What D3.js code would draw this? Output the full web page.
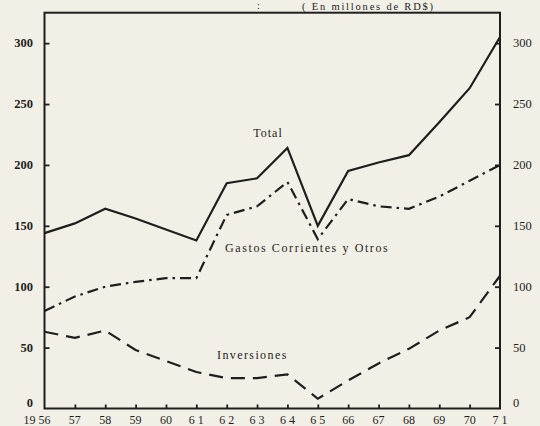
<!DOCTYPE html>
<html>
<head>
<meta charset="utf-8">
<script src="https://cdn.jsdelivr.net/npm/d3@7"></script>
<style>
  html, body { margin: 0; padding: 0; background: #f2f0e6; }
  svg { display: block; }
  text { font-family: "Liberation Serif", "DejaVu Serif", serif; fill: #1e1e1e; }
</style>
</head>
<body>
<svg id="chart" width="540" height="426"></svg>
<script>
// Years 1956–1971
const years = [1956, 1957, 1958, 1959, 1960, 1961, 1962, 1963, 1964, 1965, 1966, 1967, 1968, 1969, 1970, 1971];
const yearLabels = ["19 56", "57", "58", "59", "60", "6 1", "6 2", "6 3", "6 4", "6 5", "66", "67", "68", "69", "70", "7 1"];

// Millions of RD$
const total =       [144, 152, 164, 156, 147, 138, 185, 189, 214, 150, 195, 202, 208, 235, 263, 305];
const gastos =      [ 80,  92, 100, 104, 107, 107, 159, 166, 186, 139, 172, 166, 164, 174, 187, 200];
const inversiones = [ 63,  58,  64,  48,  39,  30,  25,  25,  28,   8,  23,  37,  49,  64,  75, 109];

const yTicks = [0, 50, 100, 150, 200, 250, 300];
const yTickLabels = ["0", "50", "100", "150", "200", "250", "300"];

const ink = "#1e1e1e";
const svg = d3.select("#chart");

const x = d3.scaleLinear().domain([1956, 1971]).range([44.5, 500]);
const y = d3.scaleLinear().domain([0, 325]).range([408.5, 12.7]);

// Frame
svg.append("rect")
  .attr("x", x(1956)).attr("y", y(325))
  .attr("width", x(1971) - x(1956)).attr("height", y(0) - y(325))
  .attr("fill", "none").attr("stroke", ink).attr("stroke-width", 2);

// Left and right axes: short ticks pointing into the plot
const left = svg.append("g").attr("transform", `translate(${x(1956)},0)`)
  .call(d3.axisRight(y).tickValues(yTicks).tickSize(5).tickFormat(() => ""));
left.select(".domain").remove();
left.selectAll(".tick line").attr("stroke", ink).attr("stroke-width", 1.8)
  .filter(d => d === 0).remove();

const right = svg.append("g").attr("transform", `translate(${x(1971)},0)`)
  .call(d3.axisLeft(y).tickValues(yTicks).tickSize(5).tickFormat(() => ""));
right.select(".domain").remove();
right.selectAll(".tick line").attr("stroke", ink).attr("stroke-width", 1.8)
  .filter(d => d === 0).remove();

const bottom = svg.append("g").attr("transform", `translate(0,${y(0)})`)
  .call(d3.axisTop(x).tickValues(years.slice(1, -1)).tickSize(4).tickFormat(() => ""));
bottom.select(".domain").remove();
bottom.selectAll(".tick line").attr("stroke", ink).attr("stroke-width", 1.8);

// Y tick labels on both sides (the zero sits a little above the base line)
const labelY = d => d === 0 ? y(d) - 2 : y(d) + 4;

svg.append("g").selectAll("text").data(yTicks).join("text")
  .attr("x", 33).attr("y", labelY)
  .attr("text-anchor", "end")
  .attr("font-size", 12.5).attr("font-weight", "bold")
  .text((d, i) => yTickLabels[i]);

svg.append("g").selectAll("text").data(yTicks).join("text")
  .attr("x", 513).attr("y", labelY)
  .attr("text-anchor", "start")
  .attr("font-size", 12.5)
  .text((d, i) => yTickLabels[i]);

// X tick labels
svg.append("g").selectAll("text").data(years).join("text")
  .attr("x", (d, i) => i === 0 ? x(d) + 6 : x(d))
  .attr("y", 424)
  .attr("text-anchor", (d, i) => i === 0 ? "end" : "middle")
  .attr("font-size", 12)
  .text((d, i) => yearLabels[i]);

// Series lines
const line = d3.line().x((d, i) => x(years[i])).y(d => y(d));

svg.append("path").datum(total)
  .attr("d", line).attr("fill", "none")
  .attr("stroke", ink).attr("stroke-width", 2.2).attr("stroke-linejoin", "miter");

svg.append("path").datum(gastos)
  .attr("d", line).attr("fill", "none")
  .attr("stroke", ink).attr("stroke-width", 2.2)
  .attr("stroke-dasharray", "11,5,2.5,5");

svg.append("path").datum(inversiones)
  .attr("d", line).attr("fill", "none")
  .attr("stroke", ink).attr("stroke-width", 2.2)
  .attr("stroke-dasharray", "14,8");

// Series labels
svg.append("text").attr("x", 268).attr("y", 137)
  .attr("text-anchor", "middle").attr("font-size", 12).attr("letter-spacing", 1)
  .text("Total");

svg.append("text").attr("x", 225).attr("y", 252)
  .attr("font-size", 12).attr("letter-spacing", 1.6)
  .text("Gastos Corrientes y Otros");

svg.append("text").attr("x", 217).attr("y", 359)
  .attr("font-size", 12).attr("letter-spacing", 1.4)
  .text("Inversiones");

// Unit note along the top edge
svg.append("text").attr("x", 302).attr("y", 10)
  .attr("font-size", 10.5).attr("letter-spacing", 1.8)
  .text("( En millones de RD$)");
svg.append("text").attr("x", 257).attr("y", 9)
  .attr("font-size", 10)
  .text(":");
</script>
</body>
</html>
